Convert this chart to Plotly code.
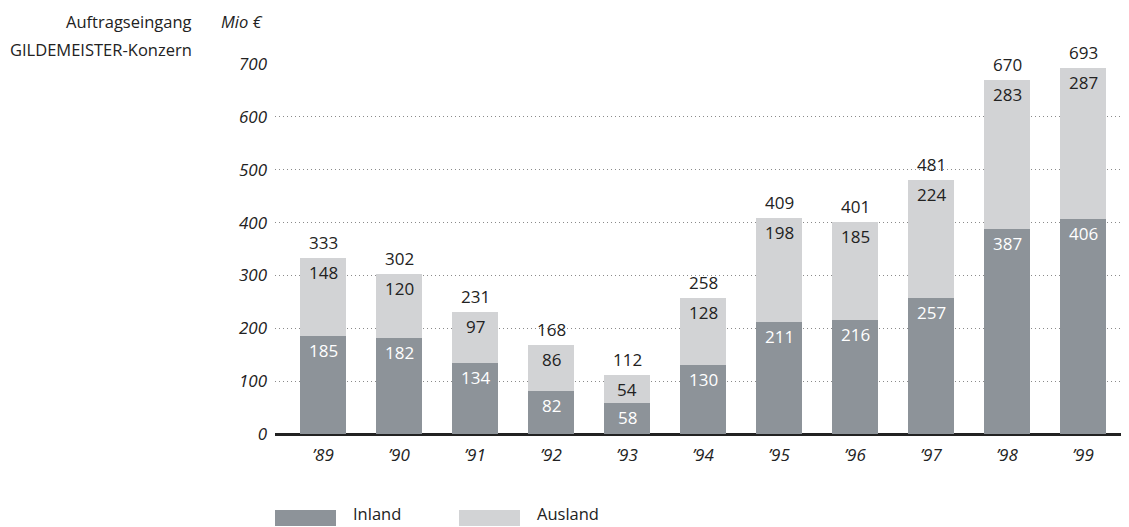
import plotly.graph_objects as go

years = ["’89", "’90", "’91", "’92", "’93", "’94", "’95", "’96", "’97", "’98", "’99"]
inland = [185, 182, 134, 82, 58, 130, 211, 216, 257, 387, 406]
ausland = [148, 120, 97, 86, 54, 128, 198, 185, 224, 283, 287]
totals = [333, 302, 231, 168, 112, 258, 409, 401, 481, 670, 693]
y_ticks = [0, 100, 200, 300, 400, 500, 600, 700]

C_IN = "#8d9399"
C_AUS = "#d2d3d5"
C_TXT = "#222222"
FONT = "Open Sans"
FS = 17
FSH = 16.5

fig = go.Figure()
fig.add_trace(go.Bar(x=years, y=inland, marker=dict(color=C_IN, line=dict(width=0)), name="Inland", showlegend=False))
fig.add_trace(go.Bar(x=years, y=ausland, marker=dict(color=C_AUS, line=dict(width=0)), name="Ausland", showlegend=False))

ann = []
for yr, a, b, t in zip(years, inland, ausland, totals):
    ann.append(dict(x=yr, y=a, text=str(a), showarrow=False, yanchor="top", yshift=-1,
                    font=dict(color="white", size=FS, family=FONT)))
    ann.append(dict(x=yr, y=t, text=str(b), showarrow=False, yanchor="top", yshift=-1,
                    font=dict(color=C_TXT, size=FS, family=FONT)))
    ann.append(dict(x=yr, y=t, text=str(t), showarrow=False, yanchor="bottom", yshift=2,
                    font=dict(color=C_TXT, size=FS, family=FONT)))

OFF = 8  # page body offset
W, H = 1129 - OFF, 527 - OFF
L, R, T = 275 - OFF, 0, 64 - OFF
B = H - (434 - OFF)
pw = W - L - R
ph = H - T - B

def px(x):
    return (x - OFF - L) / pw

def py(y):
    return (H - B - (y - OFF)) / ph

ann += [
    dict(xref="paper", yref="paper", x=px(194), y=py(8), text="Auftragseingang", xanchor="right",
         yanchor="top", showarrow=False, font=dict(color=C_TXT, size=FSH, family=FONT)),
    dict(xref="paper", yref="paper", x=px(194), y=py(50), text="GILDEMEISTER-Konzern", xanchor="right",
         yanchor="middle", showarrow=False, font=dict(color=C_TXT, size=FSH, family=FONT)),
    dict(xref="paper", yref="paper", x=px(219), y=py(8), text="<i>Mio €</i>", xanchor="left",
         yanchor="top", showarrow=False, font=dict(color=C_TXT, size=FSH, family=FONT)),
    dict(xref="paper", yref="paper", x=px(351), y=py(527), text="Inland", xanchor="left",
         yanchor="bottom", showarrow=False, font=dict(color=C_TXT, size=FSH, family=FONT)),
    dict(xref="paper", yref="paper", x=px(535), y=py(527), text="Ausland", xanchor="left",
         yanchor="bottom", showarrow=False, font=dict(color=C_TXT, size=FSH, family=FONT)),
]

shapes = [
    dict(type="rect", xref="paper", yref="paper", x0=px(275), x1=px(336), y0=py(526), y1=py(510),
         fillcolor=C_IN, line=dict(width=0)),
    dict(type="rect", xref="paper", yref="paper", x0=px(459), x1=px(520), y0=py(526), y1=py(510),
         fillcolor=C_AUS, line=dict(width=0)),
]

fig.update_layout(
    width=W, height=H,
    margin=dict(l=L, r=R, t=T, b=B, pad=0),
    barmode="stack", bargap=0.4,
    plot_bgcolor="white", paper_bgcolor="white",
    font=dict(family=FONT, size=FS, color=C_TXT),
    annotations=ann, shapes=shapes,
    xaxis=dict(range=[-0.632, 10.605], showgrid=False, showline=False, zeroline=False,
               ticks="", tickfont=dict(family=FONT, size=FS, style="italic", color=C_TXT),
               ticklabelstandoff=9),
    yaxis=dict(range=[0, 700], tickvals=y_ticks, showgrid=True, gridcolor="#8a8a8a",
               griddash="1px,3px", gridwidth=1, zeroline=True, zerolinecolor="#222222", zerolinewidth=3,
               showline=False, ticks="",
               tickfont=dict(family=FONT, size=FS, style="italic", color=C_TXT),
               ticklabelstandoff=7),
)

fig.write_html("out.html")
